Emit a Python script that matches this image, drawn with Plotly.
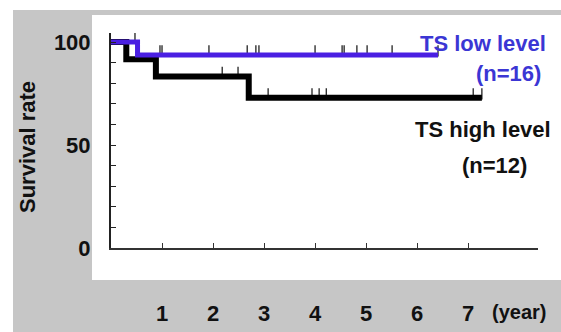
import plotly.graph_objects as go

# ---- data ----
low_times = [0, 0.52, 6.41]
low_surv = [100, 93.75, 93.75]
low_censor = [0.47, 0.96, 1.0, 1.92, 2.67, 2.84, 2.90, 4.0, 4.53, 4.57, 4.82, 5.02, 5.51, 6.41]

high_times = [0, 0.30, 0.88, 2.70, 7.27]
high_surv = [100, 91.67, 83.33, 72.92, 72.92]
high_censor = [2.18, 2.49, 3.08, 3.94, 4.08, 4.22, 7.10, 7.27]

x_tickvals = [1, 2, 3, 4, 5, 6, 7]
x_ticktext = ["1", "2", "3", "4", "5", "6", "7"]
y_tickvals = [0, 10, 20, 30, 40, 50, 60, 70, 80, 90, 100]
y_ticktext = ["0", "", "", "", "", "50", "", "", "", "", "100"]

# ---- layout geometry ----
W, H = 561, 332
ML, MR, MT, MB = 111, 23, 33, 84
PW, PH = W - ML - MR, H - MT - MB
XMAX, YMAX = 8.37, 104.4
px_per_y = PH / YMAX

FONT = "Liberation Sans, Arial, sans-serif"
BLUE_LINE = "#4a1fe2"
BLUE_TEXT = "#3b36d4"
DARK = "#111111"


def level(t, times, surv):
    v = surv[0]
    for ti, si in zip(times, surv):
        if ti <= t:
            v = si
    return v


def px2paper_x(px):
    return (px - ML) / PW


def px2paper_y(py):
    return (H - MB - py) / PH


TICK_SIZE = 8
off = (TICK_SIZE / 2) / px_per_y

fig = go.Figure()

fig.add_trace(go.Scatter(
    x=low_censor, y=[level(t, low_times, low_surv) + off for t in low_censor],
    mode="markers", marker=dict(symbol="line-ns", size=TICK_SIZE, line=dict(width=1.3, color="#222")),
    hoverinfo="skip", showlegend=False))
fig.add_trace(go.Scatter(
    x=high_censor, y=[level(t, high_times, high_surv) + off for t in high_censor],
    mode="markers", marker=dict(symbol="line-ns", size=TICK_SIZE, line=dict(width=1.3, color="#222")),
    hoverinfo="skip", showlegend=False))

fig.add_trace(go.Scatter(x=high_times, y=high_surv, mode="lines", line=dict(shape="hv", color="#000000", width=6),
                         showlegend=False))
fig.add_trace(go.Scatter(x=low_times, y=low_surv, mode="lines", line=dict(shape="hv", color=BLUE_LINE, width=5),
                         showlegend=False))

# background panels
fig.add_shape(type="rect", xref="paper", yref="paper", layer="below",
              x0=px2paper_x(13), x1=px2paper_x(W + 5), y0=px2paper_y(H + 5), y1=px2paper_y(10),
              fillcolor="#c6c6c6", line=dict(width=0))
fig.add_shape(type="rect", xref="paper", yref="paper", layer="below",
              x0=px2paper_x(92), x1=px2paper_x(W + 5), y0=px2paper_y(280), y1=px2paper_y(15),
              fillcolor="#ffffff", line=dict(width=0))

tf = dict(family=FONT, size=22, color=DARK, weight="bold")

fig.update_layout(
    width=W, height=H,
    margin=dict(l=ML, r=MR, t=MT, b=MB, autoexpand=False),
    paper_bgcolor="#ffffff", plot_bgcolor="rgba(0,0,0,0)",
    showlegend=False,
    xaxis=dict(range=[0, XMAX], showgrid=False, zeroline=False, showline=True, linecolor="#333", linewidth=1.5,
               ticks="inside", ticklen=5, tickwidth=1, tickcolor="#333", automargin=False,
               tickvals=x_tickvals, ticktext=x_ticktext, tickfont=tf, ticklabelstandoff=45),
    yaxis=dict(range=[0, YMAX], showgrid=False, zeroline=False, showline=True, linecolor="#222", linewidth=2,
               ticks="inside", ticklen=5, tickwidth=1.2, tickcolor="#222", automargin=False,
               tickvals=y_tickvals, ticktext=y_ticktext, tickfont=tf, ticklabelstandoff=14),
    annotations=[
        dict(text="Survival rate", xref="paper", yref="paper", x=px2paper_x(27), y=px2paper_y(147),
             textangle=-90, showarrow=False, xanchor="center", yanchor="middle", font=tf),
        dict(text="(year)", xref="paper", yref="paper", x=px2paper_x(519), y=px2paper_y(312),
             showarrow=False, xanchor="center", yanchor="middle", font=dict(tf, size=20)),
        dict(text="TS low level", xref="paper", yref="paper", x=px2paper_x(548), y=px2paper_y(44),
             showarrow=False, xanchor="right", yanchor="middle", font=dict(tf, color=BLUE_TEXT)),
        dict(text="(n=16)", xref="paper", yref="paper", x=px2paper_x(543), y=px2paper_y(73),
             showarrow=False, xanchor="right", yanchor="middle", font=dict(tf, color=BLUE_TEXT)),
        dict(text="TS high level", xref="paper", yref="paper", x=px2paper_x(553), y=px2paper_y(129),
             showarrow=False, xanchor="right", yanchor="middle", font=tf),
        dict(text="(n=12)", xref="paper", yref="paper", x=px2paper_x(529), y=px2paper_y(165),
             showarrow=False, xanchor="right", yanchor="middle", font=tf),
    ],
)

fig.write_html(
    "out.html",
    config={"displayModeBar": False},
    post_script="document.body.style.margin='0';document.body.style.overflow='hidden';"
                "document.documentElement.style.overflow='hidden';",
)
